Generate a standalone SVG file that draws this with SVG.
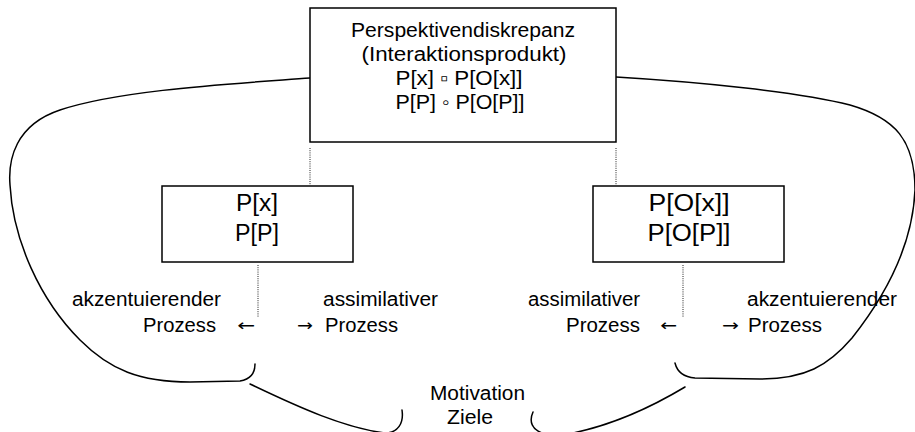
<svg xmlns="http://www.w3.org/2000/svg" width="915" height="432" viewBox="0 0 915 432">
<style>
.box{fill:#fff;stroke:#000;stroke-width:1.5}
.dot{stroke:#222;stroke-width:1;stroke-dasharray:1,1.2;fill:none}
.curve{fill:none;stroke:#000;stroke-width:1.5;stroke-linecap:round}
text{font-family:"Liberation Sans",Arial,sans-serif;fill:#000}
.t1{font-size:19.5px;text-anchor:middle}
.t2{font-size:23px;text-anchor:middle}
.lb{font-size:19.5px}
.ar{font-family:"DejaVu Sans",sans-serif;font-size:16px}
</style>
<rect width="915" height="432" fill="#fff"/>
<g id="connectors">
<line class="dot" x1="310" y1="148" x2="310" y2="185"/>
<line class="dot" x1="616" y1="148" x2="616" y2="185"/>
<line class="dot" x1="258" y1="265" x2="258" y2="317"/>
<line class="dot" x1="683" y1="265" x2="683" y2="317"/>
<path class="curve" d="M310,78 C230,84 120,90 60,110 C15,125 8,160 10,185 C13,240 40,300 80,340 C110,370 140,382 190,382 L240,381 C252,379 255,372 255,364"/>
<path class="curve" d="M616,77 C700,82 800,92 850,105 C895,118 915,140 915,190 C913,240 890,290 852,338 C828,366 805,379 760,379 L695,378 C682,377 677,371 675,363"/>
<path class="curve" d="M250,384 C300,408 345,428 385,433 C398,433 404,423 402,410"/>
<path class="curve" d="M533,412 C529,421 531,430 545,434 M568,434 C610,426 650,408 685,387"/>
</g>
<g id="top">
<rect class="box" x="310" y="8" width="306" height="134"/>
<text class="t1" x="463" y="37" textLength="224" lengthAdjust="spacingAndGlyphs">Perspektivendiskrepanz</text>
<text class="t1" x="464" y="61" textLength="205" lengthAdjust="spacingAndGlyphs">(Interaktionsprodukt)</text>
<text class="t1" x="459" y="85" textLength="127" lengthAdjust="spacingAndGlyphs">P[x] ▫ P[O[x]]</text>
<text class="t1" x="460" y="109" textLength="129" lengthAdjust="spacingAndGlyphs">P[P] ◦ P[O[P]]</text>
</g>
<g id="left">
<rect class="box" x="162" y="186" width="191" height="76"/>
<text class="t2" x="257" y="211" textLength="42" lengthAdjust="spacingAndGlyphs">P[x]</text>
<text class="t2" x="257" y="241" textLength="44" lengthAdjust="spacingAndGlyphs">P[P]</text>
</g>
<g id="right">
<rect class="box" x="593" y="186" width="191" height="76"/>
<text class="t2" x="689" y="211" textLength="81" lengthAdjust="spacingAndGlyphs">P[O[x]]</text>
<text class="t2" x="689" y="241" textLength="83" lengthAdjust="spacingAndGlyphs">P[O[P]]</text>
</g>
<g id="labels">
<text class="lb" x="72" y="306" textLength="149" lengthAdjust="spacingAndGlyphs">akzentuierender</text>
<text class="lb" x="143" y="332" textLength="73" lengthAdjust="spacingAndGlyphs">Prozess</text>
<text class="ar" x="237" y="331" textLength="18" lengthAdjust="spacingAndGlyphs">←</text>
<text class="lb" x="323" y="306" textLength="115" lengthAdjust="spacingAndGlyphs">assimilativer</text>
<text class="ar" x="297" y="331" textLength="16" lengthAdjust="spacingAndGlyphs">→</text>
<text class="lb" x="325" y="332" textLength="73" lengthAdjust="spacingAndGlyphs">Prozess</text>
<text class="lb" x="528" y="306" textLength="112" lengthAdjust="spacingAndGlyphs">assimilativer</text>
<text class="lb" x="566" y="332" textLength="74" lengthAdjust="spacingAndGlyphs">Prozess</text>
<text class="ar" x="660" y="331" textLength="17" lengthAdjust="spacingAndGlyphs">←</text>
<text class="lb" x="747" y="306" textLength="150" lengthAdjust="spacingAndGlyphs">akzentuierender</text>
<text class="ar" x="722" y="331" textLength="17" lengthAdjust="spacingAndGlyphs">→</text>
<text class="lb" x="748" y="332" textLength="74" lengthAdjust="spacingAndGlyphs">Prozess</text>
</g>
<g id="center">
<text class="lb" x="430" y="400" textLength="95" lengthAdjust="spacingAndGlyphs">Motivation</text>
<text class="lb" x="447" y="424" textLength="46" lengthAdjust="spacingAndGlyphs">Ziele</text>
</g>
</svg>
